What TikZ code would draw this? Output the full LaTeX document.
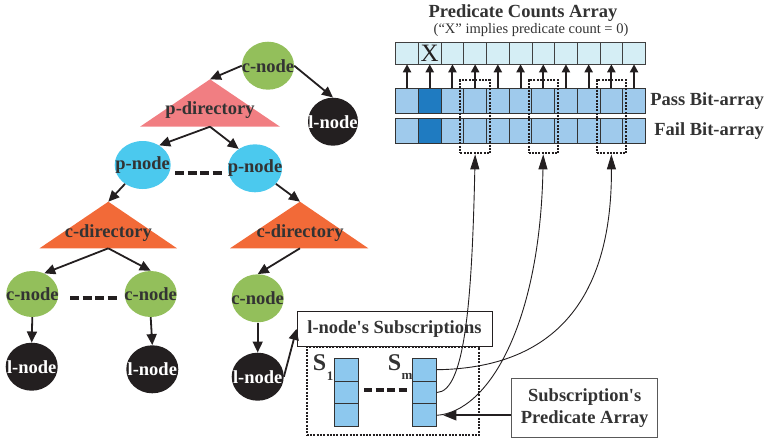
\documentclass[tikz,border=0pt]{standalone}
\usepackage{fontspec}
\setmainfont{Liberation Serif}[Ligatures=TeXOff]
\usetikzlibrary{shapes.geometric,arrows.meta,calc}
\definecolor{cgreen}{HTML}{93BF5B}
\definecolor{ccyan}{HTML}{4BC9EE}
\definecolor{cblack}{HTML}{231F20}
\definecolor{cpink}{HTML}{F17E82}
\definecolor{corange}{HTML}{F26A38}
\definecolor{labgray}{HTML}{333333}
\definecolor{toplight}{HTML}{D5EEF5}
\definecolor{passblue}{HTML}{9FCAEC}
\definecolor{darkblue}{HTML}{1F7BC1}
\definecolor{subblue}{HTML}{8DC8EE}
\begin{document}
\begin{tikzpicture}[x=1pt,y=-1pt,
  ell/.style={ellipse, inner sep=0pt, minimum width=52pt, minimum height=48pt},
  lbl/.style={font=\fontsize{18.5}{20}\selectfont\bfseries, text=labgray, inner sep=0pt},
  wlbl/.style={font=\fontsize{18.5}{20}\selectfont\bfseries, text=white, inner sep=0pt},
  arr/.style={line width=1.8pt, draw=cblack, -{Triangle[length=11pt,width=10pt]}},
  dsh/.style={line width=4pt, draw=cblack, dash pattern=on 9pt off 3.5pt},
  topcell/.style={draw=black!75, line width=0.7pt, fill=toplight, minimum width=22.7pt, minimum height=21.6pt, inner sep=0pt, outer sep=0pt},
  bitcell/.style={draw=black!80, line width=0.9pt, fill=passblue, minimum width=22.7pt, minimum height=25pt, inner sep=0pt, outer sep=0pt},
  subcell/.style={draw=black!80, line width=0.9pt, fill=subblue, minimum width=24pt, minimum height=22.8pt, inner sep=0pt, outer sep=0pt},
  dotted2/.style={draw=cblack, line width=2pt, dash pattern=on 2pt off 1.3pt},
  dotbox/.style={dotted2, minimum width=29.5pt, minimum height=73.3pt, inner sep=0pt},
  uparr/.style={line width=2pt, draw=cblack, -{Triangle[length=8pt,width=8pt]}},
  curv/.style={line width=0.9pt, draw=cblack, -{Triangle[length=15pt,width=9pt]}},
  boxtxt/.style={font=\fontsize{18.5}{25}\selectfont\bfseries, text=labgray, align=center}
]
\useasboundingbox (0,0) rectangle (766,440);

% ---------- tree ----------
\node[ell, fill=cgreen, label={[lbl]center:c-node}] (cn1) at (268,65.7) {};
\node[ell, fill=cblack, minimum width=50pt, label={[wlbl]center:l-node}] (ln1) at (333,121.7) {};
\coordinate (pdA) at (210,79.3);
\coordinate (pdB) at (210,126.7);
\fill[cpink] (140,126.7) -- (pdA) -- (280,126.7) -- cycle;
\node[lbl] (pdT) at (210,110) {p-directory};

\node[ell, fill=ccyan, minimum width=56pt, label={[lbl]center:p-node}] (pn1) at (142.7,165) {};
\node[ell, fill=ccyan, minimum width=54pt, label={[lbl]center:p-node}] (pn2) at (255,168.3) {};
\coordinate (d1a) at (175,172.7);
\coordinate (d1b) at (222,172.7);
\draw[dsh] (d1a) -- (d1b);

\coordinate (cdLA) at (108.3,201.7);
\coordinate (cdLB) at (108.3,248.3);
\fill[corange] (39.5,248.3) -- (cdLA) -- (177,248.3) -- cycle;
\node[lbl] (cdLT) at (108.3,233) {c-directory};
\coordinate (cdRA) at (300,201.7);
\coordinate (cdRB) at (300,248.3);
\fill[corange] (230,248.3) -- (cdRA) -- (368.3,248.3) -- cycle;
\node[lbl] (cdRT) at (300,233) {c-directory};

\node[ell, fill=cgreen, minimum height=46pt, label={[lbl]center:c-node}] (cnL) at (32.3,294) {};
\node[ell, fill=cgreen, minimum height=46pt, label={[lbl]center:c-node}] (cnM) at (150.7,294) {};
\node[ell, fill=cgreen, label={[lbl]center:c-node}] (cnR) at (257.7,298.3) {};
\coordinate (d2a) at (70,298.3);
\coordinate (d2b) at (117,298.3);
\draw[dsh] (d2a) -- (d2b);

\node[ell, fill=cblack, label={[wlbl]center:l-node}] (lnL) at (31.7,366.7) {};
\node[ell, fill=cblack, label={[wlbl]center:l-node}] (lnM) at (152.3,369.3) {};
\node[ell, fill=cblack, label={[wlbl]center:l-node}] (lnR) at (257.7,376.7) {};

\draw[arr] (cn1.west) -- (pdA);
\draw[arr] (cn1.east) -- (ln1.north);
\draw[arr] (pdB) -- (pn1.50);
\draw[arr] (pdB) -- (pn2.130);
\draw[arr] (pn1) -- (cdLA);
\draw[arr] (pn2) -- (cdRA);
\draw[arr] (cdLB) -- (cnL.60);
\draw[arr] (cdLB) -- (cnM.north);
\draw[arr] (cdRB) -- (cnR.north);
\draw[arr] (cnL.south) -- (lnL.north);
\draw[arr] (cnM.south) -- (lnM.north);
\draw[arr] (cnR.south) -- (lnR.north);

% ---------- subscriptions ----------
\node[draw=cblack, line width=0.9pt, minimum width=195pt, minimum height=34.3pt, inner sep=0pt, font=\fontsize{18.5}{20}\selectfont\bfseries, text=labgray] (subbox) at (394.5,328.9) {l-node's Subscriptions};
\draw[arr] (lnR.east) -- (subbox.west);

\node[dotted2, minimum width=172.6pt, minimum height=88.3pt, inner sep=0pt] (subarea) at (393,390.85) {};

\foreach \i/\yy in {1/369.7,2/392.5,3/415.3}{
  \node[subcell] (s1\i) at (346.3,\yy) {};
  \node[subcell] (sm\i) at (424.7,\yy) {};
}
\node[inner sep=0pt, font=\fontsize{24}{26}\selectfont\bfseries, text=labgray] (s1S) at (319.5,363) {S};
\node[inner sep=0pt, font=\fontsize{13}{14}\selectfont\bfseries, text=labgray] (s1n) at (330,376) {1};
\node[inner sep=0pt, font=\fontsize{24}{26}\selectfont\bfseries, text=labgray] (smS) at (394.5,363) {S};
\node[inner sep=0pt, font=\fontsize{13}{14}\selectfont\bfseries, text=labgray] (smn) at (407,376) {m};
\coordinate (d3a) at (364,390);
\coordinate (d3b) at (407,390);
\draw[dsh, line width=3.5pt, dash pattern=on 8pt off 3.5pt] (d3a) -- (d3b);

\node[draw=black!65, line width=1pt, minimum width=146pt, minimum height=59pt, inner sep=0pt, boxtxt] (spa) at (584.7,407.8) {Subscription's\\[-3pt]Predicate Array};
\draw[arr, -{Triangle[length=13pt,width=10pt]}] (spa.west |- sm3.east) -- ([xshift=6.6pt]sm3.east);

% ---------- predicate counts array ----------
\node[font=\fontsize{18.5}{20}\selectfont\bfseries, text=labgray, inner sep=0pt] (title) at (523,13) {Predicate Counts Array};
\node[font=\fontsize{14.5}{16}\selectfont, text=labgray, inner sep=0pt] (subt) at (531,30) {(“X” implies predicate count = 0)};

\foreach \i in {1,...,11}{
  \pgfmathsetmacro{\xx}{395.7+22.7*(\i-0.5)}
  \node[topcell] (top\i) at (\xx,53.5) {};
  \node[bitcell] (pass\i) at (\xx,100.8) {};
  \node[bitcell] (fail\i) at (\xx,130.8) {};
}
\node[bitcell, fill=darkblue] (pass2d) at (pass2) {};
\node[bitcell, fill=darkblue] (fail2d) at (fail2) {};
\node[inner sep=0pt, font=\fontsize{25}{26}\selectfont, text=cblack] (xlab) at (top2) {X};
\foreach \i in {1,...,11}{
  \draw[uparr] (pass\i.north) -- (top\i.south);
}
\node[dotbox] (b1) at (pass4 |- 0,116.7) {};
\node[dotbox] (b2) at (pass7 |- 0,116.7) {};
\node[dotbox] (b3) at (pass10 |- 0,116.7) {};

\node[anchor=east, inner sep=0pt, font=\fontsize{18.5}{20}\selectfont\bfseries, text=labgray] (passT) at (764,100.8) {Pass Bit-array};
\node[anchor=east, inner sep=0pt, font=\fontsize{18.5}{20}\selectfont\bfseries, text=labgray] (failT) at (764,130.8) {Fail Bit-array};

% ---------- curves ----------
\draw[curv] (sm1.east) .. controls (570,368) and (612,280) .. (b3.south);
\draw[curv] (sm2.east) .. controls (465,392) and (472,300) .. (b1.south);
\draw[curv] (sm3.east) .. controls (488,412) and (540,325) .. (b2.south);
\end{tikzpicture}
\end{document}
